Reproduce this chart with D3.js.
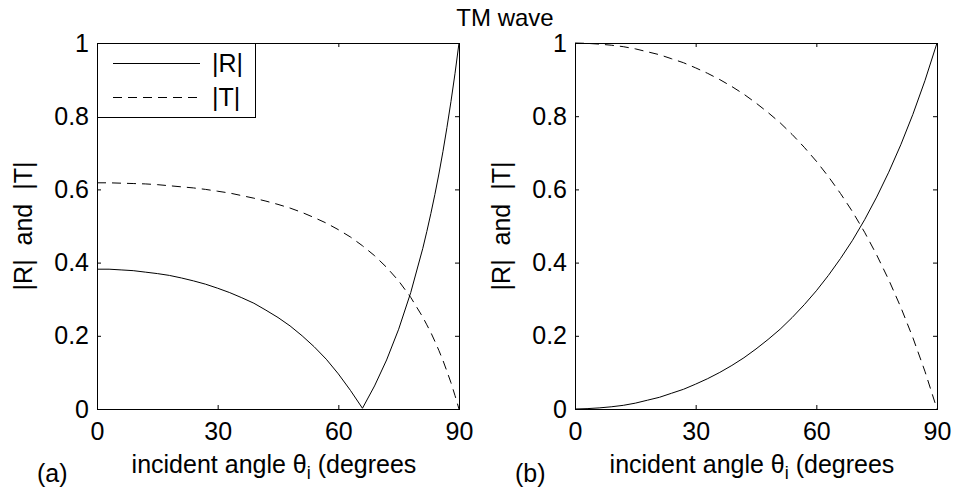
<!DOCTYPE html>
<html>
<head>
<meta charset="utf-8">
<script src="https://cdn.jsdelivr.net/npm/d3@7"></script>
<style>
  html, body { margin: 0; padding: 0; background: #fff; }
  svg { display: block; }
  text { font-family: "Liberation Sans", Arial, Helvetica, sans-serif; fill: #000; }
</style>
</head>
<body>
<svg id="chart" width="954" height="493"></svg>
<script>
// Incident angle (degrees) and reflection / transmission magnitudes, TM wave
// (a) dielectric interface with a Brewster angle near 66 degrees
const anglesA = [0, 3, 6, 9, 12, 15, 18, 21, 24, 27, 30, 33, 36, 39, 42, 45, 48, 51, 54, 57,
                 60, 63, 66, 69, 72, 75, 78, 81, 82, 83, 84, 85, 86, 87, 88, 89, 90];
const magRa = [0.382, 0.382, 0.380, 0.378, 0.374, 0.370, 0.365, 0.358, 0.350, 0.341, 0.330,
               0.318, 0.304, 0.289, 0.270, 0.250, 0.227, 0.200, 0.170, 0.136, 0.096, 0.051,
               0.002, 0.063, 0.134, 0.218, 0.318, 0.439, 0.485, 0.534, 0.586, 0.642, 0.703,
               0.769, 0.840, 0.916, 1.000];
const magTa = [0.618, 0.618, 0.617, 0.616, 0.615, 0.613, 0.610, 0.607, 0.604, 0.600, 0.595,
               0.590, 0.583, 0.576, 0.568, 0.559, 0.549, 0.537, 0.523, 0.508, 0.490, 0.470,
               0.446, 0.419, 0.387, 0.350, 0.305, 0.251, 0.230, 0.209, 0.185, 0.160, 0.133,
               0.103, 0.072, 0.037, 0.000];

// (b) matched-impedance interface
const anglesB = [0, 3, 6, 9, 12, 15, 18, 21, 24, 27, 30, 33, 36, 39, 42, 45, 48, 51, 54, 57,
                 60, 63, 66, 69, 72, 75, 78, 81, 84, 87, 90];
const magRb = [0.000, 0.001, 0.003, 0.006, 0.010, 0.016, 0.024, 0.032, 0.043, 0.054, 0.068,
               0.083, 0.100, 0.119, 0.140, 0.164, 0.190, 0.218, 0.250, 0.285, 0.323, 0.365,
               0.411, 0.461, 0.517, 0.579, 0.647, 0.722, 0.805, 0.897, 1.000];
const magTb = [1.000, 0.999, 0.997, 0.994, 0.990, 0.984, 0.976, 0.968, 0.957, 0.946, 0.932,
               0.917, 0.900, 0.881, 0.860, 0.836, 0.810, 0.782, 0.750, 0.715, 0.677, 0.635,
               0.589, 0.539, 0.483, 0.421, 0.353, 0.278, 0.195, 0.103, 0.000];

const xTicks = [0, 30, 60, 90];
const yTicks = [0, 0.2, 0.4, 0.6, 0.8, 1];
const titleText = "TM wave";
const xLabelMain = "incident angle ";
const yLabelText = "|R|  and  |T|";
const legendLabels = ["|R|", "|T|"];
const panelTags = ["(a)", "(b)"];

const svg = d3.select("#chart");
const FONT = 25;
const plotTop = 43, plotBottom = 409;
const tickLen = 4;
const dashes = "9,6";

const panels = [
  { left: 97,  right: 459, angles: anglesA, R: magRa, T: magTa, tag: panelTags[0], legend: true },
  { left: 575, right: 937, angles: anglesB, R: magRb, T: magTb, tag: panelTags[1], legend: false }
];

panels.forEach(p => {
  const x = d3.scaleLinear().domain([0, 90]).range([p.left, p.right]);
  const y = d3.scaleLinear().domain([0, 1]).range([plotBottom, plotTop]);
  const g = svg.append("g");

  const fmt = d => String(+d.toFixed(1));

  // inward ticks on all four sides
  const ax = [
    [d3.axisBottom(x).tickValues(xTicks).tickSize(-tickLen).tickPadding(13).tickFormat(fmt), `translate(0,${plotBottom})`],
    [d3.axisTop(x).tickValues(xTicks).tickSize(-tickLen).tickFormat(""), `translate(0,${plotTop})`],
    [d3.axisLeft(y).tickValues(yTicks).tickSize(-tickLen).tickPadding(8).tickFormat(fmt), `translate(${p.left},0)`],
    [d3.axisRight(y).tickValues(yTicks).tickSize(-tickLen).tickFormat(""), `translate(${p.right},0)`]
  ];
  ax.forEach(([axis, tr]) => {
    const a = g.append("g").attr("transform", tr).call(axis);
    a.select(".domain").remove();
    a.selectAll("line").attr("stroke", "#000").attr("stroke-width", 1);
    a.selectAll("text").attr("font-size", FONT).attr("fill", "#000");
    a.attr("font-family", null).attr("font-size", null);
  });

  // curves
  const line = d3.line().x((d, k) => x(p.angles[k])).y(d => y(d));
  g.append("path").datum(p.R).attr("d", line)
    .attr("fill", "none").attr("stroke", "#000").attr("stroke-width", 1);
  g.append("path").datum(p.T).attr("d", line)
    .attr("fill", "none").attr("stroke", "#000").attr("stroke-width", 1)
    .attr("stroke-dasharray", dashes);

  // axes box
  g.append("rect")
    .attr("x", p.left + 0.5).attr("y", plotTop + 0.5)
    .attr("width", p.right - p.left).attr("height", plotBottom - plotTop)
    .attr("fill", "none").attr("stroke", "#000").attr("stroke-width", 1);

  // y label
  g.append("text")
    .attr("transform", `translate(${p.left - 65},${(plotTop + plotBottom) / 2}) rotate(-90)`)
    .attr("text-anchor", "middle").attr("font-size", FONT)
    .style("white-space", "pre").text(yLabelText);

  // x label with subscript
  const xl = g.append("text")
    .attr("x", (p.left + p.right) / 2 - 4).attr("y", 473)
    .attr("text-anchor", "middle").attr("font-size", FONT);
  xl.append("tspan").text(xLabelMain);
  xl.append("tspan").text("\u03b8");
  xl.append("tspan").attr("font-size", 18).attr("dy", 6).text("i");
  xl.append("tspan").attr("dy", -6).text(" (degrees");

  // panel tag
  g.append("text").attr("x", p.left - 60).attr("y", 482)
    .attr("font-size", FONT).text(p.tag);

  if (p.legend) {
    const lg = g.append("g");
    lg.append("rect").attr("x", p.left + 0.5).attr("y", plotTop + 0.5)
      .attr("width", 158).attr("height", 74)
      .attr("fill", "#fff").attr("stroke", "#000").attr("stroke-width", 1);
    [[63, null, legendLabels[0]], [97, dashes, legendLabels[1]]].forEach(([ly, da, lab]) => {
      lg.append("line").attr("x1", p.left + 16).attr("x2", p.left + 103)
        .attr("y1", ly + 0.5).attr("y2", ly + 0.5)
        .attr("stroke", "#000").attr("stroke-width", 1)
        .attr("stroke-dasharray", da);
      lg.append("text").attr("x", p.left + 115).attr("y", ly + 9)
        .attr("font-size", FONT).text(lab);
    });
  }
});

// overall title
svg.append("text").attr("x", 505).attr("y", 26)
  .attr("text-anchor", "middle").attr("font-size", 24).text(titleText);
</script>
</body>
</html>
